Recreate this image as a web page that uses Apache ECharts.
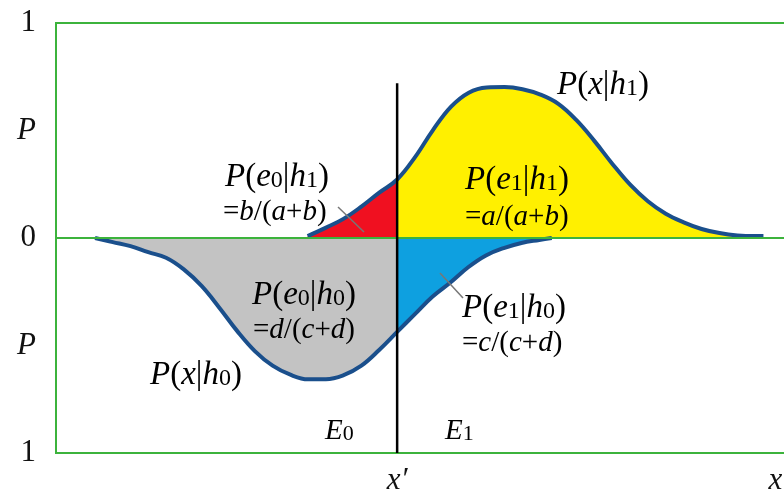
<!DOCTYPE html>
<html>
<head>
<meta charset="utf-8">
<script src="https://cdn.jsdelivr.net/npm/echarts@6/dist/echarts.min.js"></script>
<style>
  html, body { margin: 0; padding: 0; background: #fff; }
  #chart { width: 784px; height: 493px; }
</style>
</head>
<body>
<div id="chart"></div>
<script>
// x runs 0..100 across the frame, P runs from 1 (top) through 0 to 1 (bottom, drawn negative)
var xPrime = 46.1;
var xEnd = 97.2;
var thresholdTop = 0.72;

// P(x|h1), upper curve
var h1X = [34, 36.42, 38.84, 41.26, 43.68, 46.1, 48.52, 50.94, 53.36, 55.78, 58.2, 60.62, 63.04, 65.46, 67.88, 70.3, 72.72, 75.14, 77.56, 79.98, 82.4, 84.82, 87.24, 89.66, 92.08, 94.5, 95.6];
var h1P = [0.009, 0.047, 0.089, 0.146, 0.211, 0.272, 0.376, 0.502, 0.610, 0.676, 0.700, 0.702, 0.692, 0.667, 0.624, 0.549, 0.453, 0.347, 0.249, 0.171, 0.113, 0.073, 0.042, 0.023, 0.012, 0.009, 0.009];

// P(x|h0), lower curve
var h0X = [5.27, 7.67, 10.07, 12.47, 14.87, 17.27, 19.67, 22.07, 24.47, 26.87, 29.27, 31.67, 34.07, 36.47, 38.87, 41.27, 43.67, 46.1, 48.5, 50.9, 53.3, 55.7, 58.1, 60.5, 62.9, 65.3, 67];
var h0P = [0, 0.019, 0.038, 0.066, 0.092, 0.146, 0.223, 0.324, 0.432, 0.526, 0.594, 0.636, 0.657, 0.657, 0.638, 0.594, 0.521, 0.437, 0.354, 0.272, 0.207, 0.136, 0.081, 0.047, 0.023, 0.009, 0];

var serif = '"Liberation Serif", "DejaVu Serif", serif';

function pairs(xs, ys, sign, from, to) {
  var out = [];
  for (var i = 0; i < xs.length; i++) {
    if (xs[i] >= from && xs[i] <= to) out.push([xs[i], sign * ys[i]]);
  }
  return out;
}

function area(data, color) {
  return {
    type: 'line', data: data, smooth: 0.4, symbol: 'none',
    lineStyle: { width: 0 }, areaStyle: { color: color, opacity: 1 },
    silent: true, z: 1
  };
}

function curve(data) {
  return {
    type: 'line', data: data, smooth: 0.4, symbol: 'none',
    lineStyle: { color: '#1a4f8c', width: 4 }, silent: true, z: 4
  };
}

var rich = {
  i: { fontFamily: serif, fontStyle: 'italic', fontSize: 33, color: '#111' },
  n: { fontFamily: serif, fontSize: 33, color: '#111' },
  s: { fontFamily: serif, fontSize: 24, color: '#111', padding: [7, 0, 0, 0] },
  ei: { fontFamily: serif, fontStyle: 'italic', fontSize: 29, color: '#111' },
  en: { fontFamily: serif, fontSize: 29, color: '#111' },
  Ei: { fontFamily: serif, fontStyle: 'italic', fontSize: 29, color: '#111' },
  Es: { fontFamily: serif, fontSize: 22, color: '#111', padding: [6, 0, 0, 0] }
};

function prob(a, sa, b, sb) {
  // P(a_sa|b_sb)
  return '{i|P}{n|(}{i|' + a + '}{s|' + sa + '}{n||}{i|' + b + '}{s|' + sb + '}{n|)}';
}
function ratio(num, d1, d2) {
  return '{en|=}{ei|' + num + '}{en|/(}{ei|' + d1 + '}{en|+}{ei|' + d2 + '}{en|)}';
}

function txt(left, cy, text) {
  return { type: 'text', x: left, y: cy, z: 10, style: { text: text, rich: rich, verticalAlign: 'middle' } };
}
function pointer(x1, y1, x2, y2) {
  return { type: 'line', z: 10, shape: { x1: x1, y1: y1, x2: x2, y2: y2 }, style: { stroke: '#777', lineWidth: 1.5 } };
}

var chart = echarts.init(document.getElementById('chart'));

chart.setOption({
  animation: false,
  grid: { left: 56, top: 23, width: 740, height: 430, show: true, borderColor: '#3cb33c', borderWidth: 2, outerBoundsMode: 'none' },
  xAxis: {
    type: 'value', min: 0, max: 100,
    axisLine: { show: false }, axisTick: { show: false }, splitLine: { show: false },
    axisLabel: {
      customValues: [xPrime, xEnd], margin: 12,
      fontFamily: serif, fontStyle: 'italic', fontSize: 31, color: '#111',
      formatter: function (v) { return v < 60 ? 'x\u2032' : 'x'; }
    }
  },
  yAxis: {
    type: 'value', min: -1, max: 1, interval: 0.5,
    axisLine: { show: false }, axisTick: { show: false }, splitLine: { show: false },
    axisLabel: {
      margin: 20, fontFamily: serif, fontSize: 31, color: '#111',
      formatter: function (v) {
        if (Math.abs(v) === 0.5) return '{p|P}';
        return String(Math.abs(v));
      },
      rich: { p: { fontFamily: serif, fontStyle: 'italic', fontSize: 31, color: '#111' } }
    }
  },
  series: [
    area(pairs(h1X, h1P, 1, 0, xPrime), '#f01020'),
    area(pairs(h1X, h1P, 1, xPrime, 100), '#fff000'),
    area(pairs(h0X, h0P, -1, 0, xPrime), '#c3c3c3'),
    area(pairs(h0X, h0P, -1, xPrime, 100), '#0ea0e0'),
    curve(pairs(h1X, h1P, 1, 0, 100)),
    curve(pairs(h0X, h0P, -1, 0, 100)),
    {
      type: 'line', data: [[xPrime, thresholdTop], [xPrime, -1]], symbol: 'none', silent: true, z: 5,
      lineStyle: { color: '#000', width: 2.5 },
      markLine: {
        silent: true, symbol: 'none', label: { show: false },
        lineStyle: { color: '#3cb33c', width: 2, type: 'solid' },
        data: [{ yAxis: 0 }]
      }
    }
  ],
  graphic: [
    txt(225, 177, prob('e', '0', 'h', '1')),
    txt(223, 212, ratio('b', 'a', 'b')),
    pointer(338, 207, 364, 232),
    txt(557, 85, '{i|P}{n|(}{i|x}{n||}{i|h}{s|1}{n|)}'),
    txt(465, 180, prob('e', '1', 'h', '1')),
    txt(465, 217, ratio('a', 'a', 'b')),
    txt(252, 295, prob('e', '0', 'h', '0')),
    txt(253, 330, ratio('d', 'c', 'd')),
    txt(150, 375, '{i|P}{n|(}{i|x}{n||}{i|h}{s|0}{n|)}'),
    txt(462, 308, prob('e', '1', 'h', '0')),
    txt(462, 343, ratio('c', 'c', 'd')),
    pointer(440, 273, 463, 298),
    txt(325, 431, '{Ei|E}{Es|0}'),
    txt(445, 431, '{Ei|E}{Es|1}')
  ]
});
</script>
</body>
</html>
